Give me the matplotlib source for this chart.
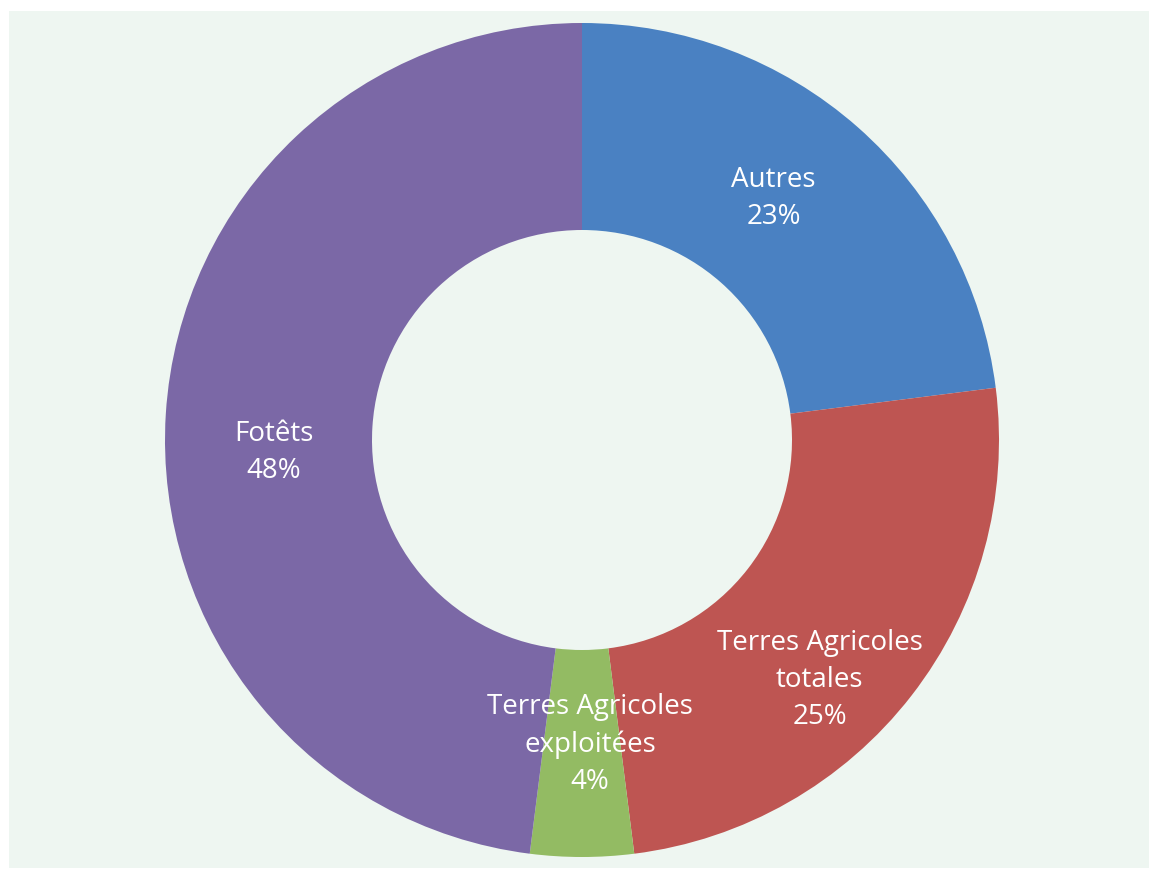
import numpy as np
import matplotlib
matplotlib.use('Agg')
import matplotlib.pyplot as plt
from matplotlib.patches import Rectangle

plt.rcParams['font.family'] = ['Open Sans', 'DejaVu Sans']

# land use shares (%), clockwise from 12 o'clock
categories = ['Autres', 'Terres Agricoles\ntotales', 'Terres Agricoles\nexploitées', 'Fotêts']
shares = [23, 25, 4, 48]
colors = ['#4A81C2', '#BE5552', '#93BB63', '#7B68A6']

bg = '#EEF6F1'
W, H = 1150, 869
cx, cy = 582, H - 440
R = 417
ring = 207

fig = plt.figure(figsize=(W / 100, H / 100), dpi=100, facecolor='white')
ax = fig.add_axes([0, 0, 1, 1])

ax.add_patch(Rectangle((9, 1), W - 10, H - 12, facecolor=bg, edgecolor='none', zorder=0))

wedges, _ = ax.pie(shares, colors=colors, startangle=90, counterclock=False,
                   center=(cx, cy), radius=R, frame=True,
                   wedgeprops=dict(width=ring, edgecolor='none'))
ax.set_xlim(0, W)
ax.set_ylim(0, H)
ax.axis('off')

# label placement: mid-angle of each wedge, nudged a little like the original layout
angle_shift = [3, -7.5, 1.5, 6]
radius_frac = [0.74, 0.81, 0.73, 0.74]
for w, name, val, da, rf in zip(wedges, categories, shares, angle_shift, radius_frac):
    mid = np.deg2rad((w.theta1 + w.theta2) / 2 + da)
    x = cx + rf * R * np.cos(mid)
    y = cy + rf * R * np.sin(mid)
    ax.text(x, y, f'{name}\n{val}%', color='white', fontsize=20,
            ha='center', va='center', linespacing=1.43, zorder=5)

fig.savefig('out.png', dpi=100, facecolor='white')
